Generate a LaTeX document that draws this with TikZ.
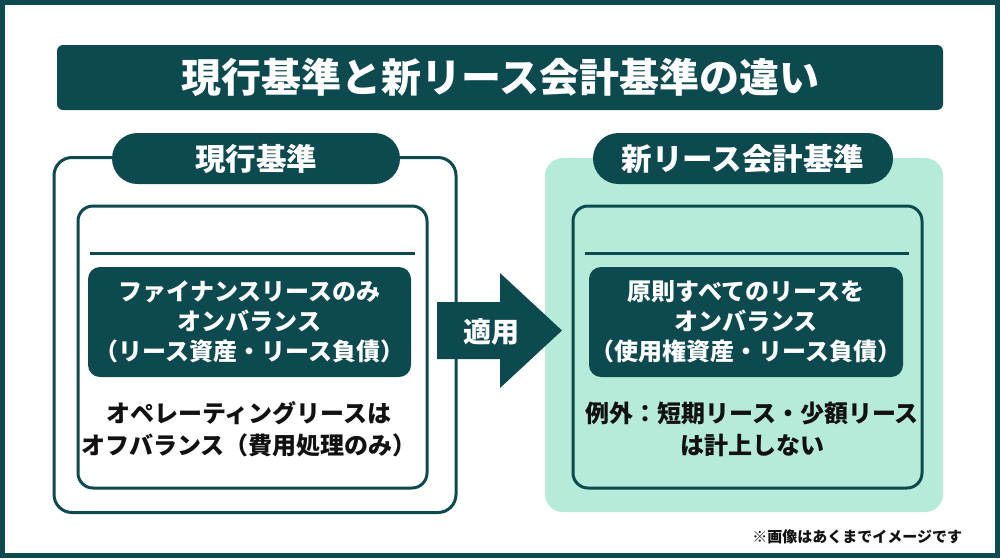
\documentclass[tikz,border=0pt]{standalone}
\usepackage{fontspec}
\setmainfont{Noto Sans CJK JP}
\definecolor{dk}{HTML}{0D4A4F}
\definecolor{mint}{HTML}{B5EBD8}
\definecolor{ink}{HTML}{111111}
\begin{document}
\begin{tikzpicture}[x=1pt,y=-1pt,
  every node/.style={inner sep=0pt,outer sep=0pt,align=center},
  darkbar/.style={fill=dk,text=white,font=\bfseries},
  panelbox/.style={draw=dk,line width=3pt,rounded corners=18pt},
  innerbox/.style={draw=dk,line width=3pt,rounded corners=15pt},
  pill/.style={darkbar,rounded corners=25.5pt,minimum height=51pt,font=\fontsize{30.5}{34}\selectfont\bfseries},
  infobox/.style={darkbar,rounded corners=12pt,minimum height=110pt,font=\fontsize{24}{30}\selectfont\bfseries},
  bodytext/.style={text=ink,font=\fontsize{24}{32}\selectfont\bfseries},
  sep/.style={draw=dk,line width=3pt}
]
\useasboundingbox (0,0) rectangle (1000,558);
\fill[white] (0,0) rectangle (1000,558);
\draw[dk,line width=5pt] (2.5,2.5) rectangle (997.5,555.5);

% title
\node[darkbar,rounded corners=6pt,minimum width=886pt,minimum height=65pt,
  font=\fontsize{40}{44}\selectfont\bfseries] (title) at (500,77.5) {現行基準と新リース会計基準の違い};

% left panel
\node[panelbox,fill=white,minimum width=402pt,minimum height=355pt] (lpanel) at (255,335) {};
\node[innerbox,minimum width=349pt,minimum height=282pt] (linner) at (252.5,347) {};
\coordinate (ls1) at (90,253); \coordinate (ls2) at (415,253);
\draw[sep] (ls1) -- (ls2);
\node[infobox,minimum width=323pt] (lbox) at (249.5,322) {ファイナンスリースのみ\\オンバランス\\（リース資産・リース負債）};
\node[bodytext] (ltext) at (249,429) {オペレーティングリースは\\オフバランス（費用処理のみ）};
\node[pill,minimum width=288pt] (lpill) at (256,158.5) {現行基準};

% right panel
\node[fill=mint,rounded corners=18pt,minimum width=398pt,minimum height=354pt] (rpanel) at (744,335) {};
\node[innerbox,minimum width=349pt,minimum height=282pt] (rinner) at (747.5,347) {};
\coordinate (rs1) at (585,253); \coordinate (rs2) at (909,253);
\draw[sep] (rs1) -- (rs2);
\node[infobox,minimum width=314pt] (rbox) at (746,322) {原則すべてのリースを\\オンバランス\\（使用権資産・リース負債）};
\node[bodytext] (rtext) at (752,429) {例外：短期リース・少額リース\\は計上しない};
\node[pill,minimum width=300pt] (rpill) at (743,158.5) {新リース会計基準};

% arrow
\fill[dk] (437,302) -- (500,302) -- (500,273) -- (562,330.5) -- (500,388) -- (500,359) -- (437,359) -- cycle;
\node[text=white,font=\fontsize{28}{32}\selectfont\bfseries] (apply) at (491,332) {適用};

% note
\node[text=ink,anchor=east,font=\fontsize{15}{18}\selectfont\bfseries] (note) at (962,537) {※画像はあくまでイメージです};
\end{tikzpicture}
\end{document}
